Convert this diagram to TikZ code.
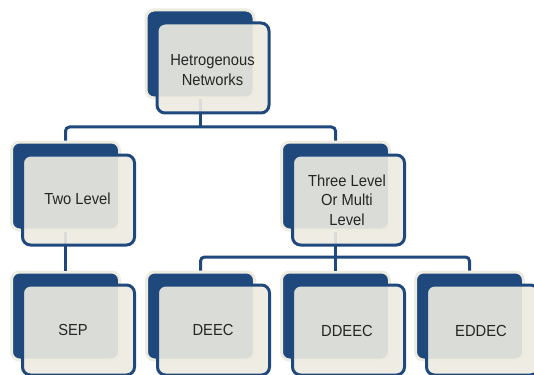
\documentclass[tikz,border=0pt]{standalone}
\usepackage{fontspec}
\setmainfont{Liberation Sans}
\newfontfamily\lblfont[FakeStretch=0.92]{Liberation Sans}
\definecolor{navy}{HTML}{1F497D}
\definecolor{cream}{HTML}{EEECE1}
\begin{document}
\begin{tikzpicture}[x=1pt,y=-1pt,
  backbox/.style={draw=cream, line width=3pt, fill=navy, rounded corners=8pt,
    minimum width=108pt, minimum height=88pt, inner sep=0pt},
  frontbox/.style={draw=navy, line width=3pt, fill=cream, fill opacity=0.9,
    rounded corners=8pt, minimum width=112pt, minimum height=90pt, inner sep=0pt},
  conn/.style={draw=navy, line width=3pt, rounded corners=4pt},
  lbl/.style={font=\lblfont\fontsize{16}{19.5}\selectfont, text=black!85, align=center, inner sep=0pt}]
\clip (0,0) rectangle (534,374);
\fill[white] (0,0) rectangle (534,374);
% back boxes
\node[backbox] (topB) at (200,54) {};
\node[backbox] (twoB) at (65.5,186) {};
\node[backbox] (threeB) at (335.5,186) {};
\node[backbox] (sepB) at (65.5,316) {};
\node[backbox] (deecB) at (200.5,316) {};
\node[backbox] (ddeecB) at (335.5,316) {};
\node[backbox] (eddecB) at (469.5,316) {};
% connectors
\coordinate (j1) at (200,127);
\coordinate (j2) at (335.5,257);
\draw[conn] (topB.south) -- (j1);
\draw[conn] (twoB.north) |- (j1) -| (threeB.north);
\draw[conn] (twoB.south) -- (sepB.north);
\draw[conn] (threeB.south) -- (j2);
\draw[conn] (deecB.north) |- (j2) -| (eddecB.north);
\draw[conn] (j2) -- (ddeecB.north);
% front boxes
\node[frontbox] (topF) at (213,68) {};
\node[frontbox] (twoF) at (78.5,200) {};
\node[frontbox] (threeF) at (348.5,200) {};
\node[frontbox] (sepF) at (78.5,330) {};
\node[frontbox] (deecF) at (213.5,330) {};
\node[frontbox] (ddeecF) at (348.5,330) {};
\node[frontbox] (eddecF) at (482.5,330) {};
% labels
\node[lbl] (topT) at (212.5,70) {Hetrogenous\\Networks};
\node[lbl] (twoT) at (77.5,199) {Two Level};
\node[lbl] (threeT) at (347,200) {Three Level\\Or Multi\\Level};
\node[lbl] (sepT) at (73,330) {SEP};
\node[lbl] (deecT) at (213,330) {DEEC};
\node[lbl] (ddeecT) at (347,331) {DDEEC};
\node[lbl] (eddecT) at (481,331) {EDDEC};
\end{tikzpicture}
\end{document}
